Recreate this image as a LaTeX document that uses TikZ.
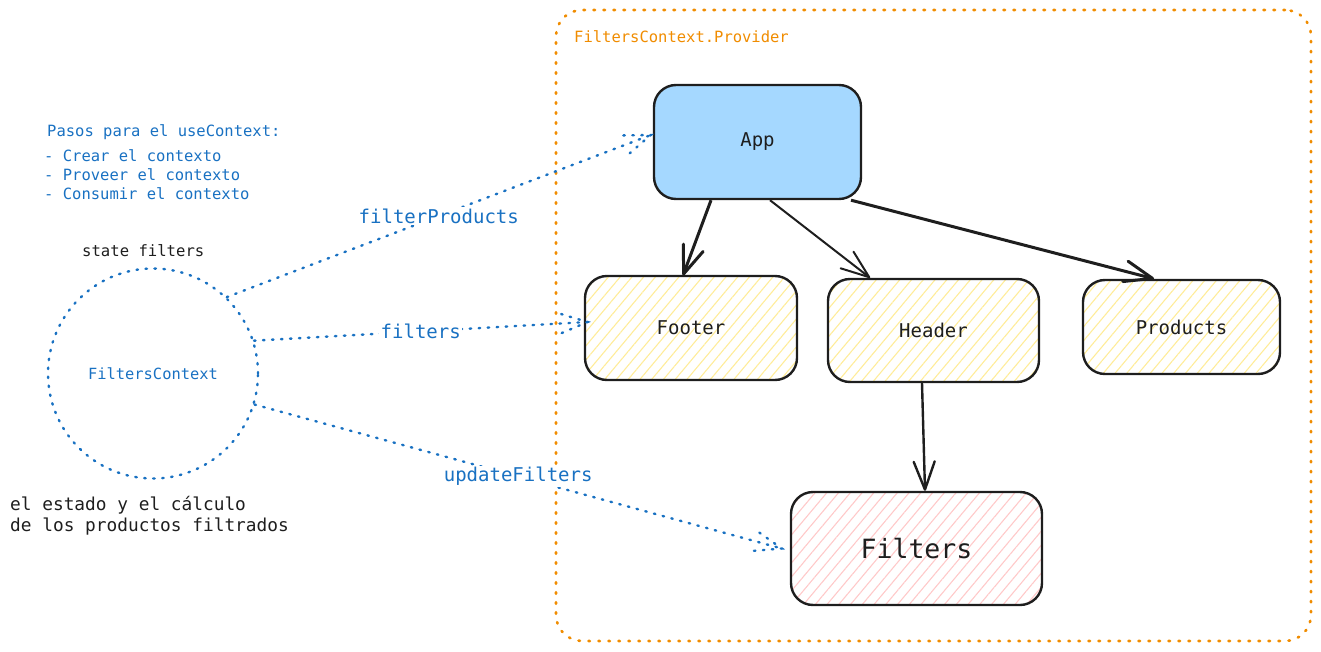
\documentclass[tikz,border=0pt]{standalone}
\usepackage{fontspec}
\setmainfont{DejaVu Sans Mono}
\usetikzlibrary{arrows.meta,patterns.meta,calc}
\definecolor{exblue}{HTML}{1971C2}
\definecolor{exorange}{HTML}{F08C00}
\definecolor{exink}{HTML}{1E1E1E}
\definecolor{appfill}{HTML}{A5D8FF}
\definecolor{hatchY}{HTML}{FFEC99}
\definecolor{hatchR}{HTML}{FFC9C9}
\tikzset{
  box/.style={draw=exink, line width=2.4pt, rounded corners=22pt, rectangle, text=exink, inner sep=0pt},
  hatchyellow/.style={pattern={Lines[angle=50,distance=9pt,line width=1.1pt]}, pattern color=hatchY},
  hatchred/.style={pattern={Lines[angle=50,distance=9pt,line width=1.1pt]}, pattern color=hatchR},
  bluedot/.style={draw=exblue, line width=2.4pt, line cap=round, dash pattern=on 1.5pt off 7.5pt},
  orangedot/.style={draw=exorange, line width=2.6pt, line cap=round, dash pattern=on 1.5pt off 8.5pt},
  blackarrow/.style={draw=exink, -{Straight Barb[length=28pt,width=21pt,round]}},
  lbl/.style={fill=white, text=exblue, inner sep=1.5pt, font=\fontsize{19}{22}\selectfont},
}
\begin{document}
\begin{tikzpicture}[x=1pt,y=-1pt]
\useasboundingbox (0,0) rectangle (1321,652);
% provider frame
\node[orangedot, rounded corners=26pt, minimum width=755pt, minimum height=631pt, inner sep=0pt] (prov) at (933.5,325.5) {};
\node[anchor=base west, text=exorange, inner sep=0pt, font=\fontsize{15.5}{18}\selectfont] (provlbl) at (574,43) {FiltersContext.Provider};
% boxes
\node[box, fill=appfill, minimum width=207pt, minimum height=114pt, font=\fontsize{19}{22}\selectfont] (App) at (757.5,142) {App};
\node[box, hatchyellow, minimum width=212pt, minimum height=104pt, font=\fontsize{19}{22}\selectfont] (Footer) at (691,328) {Footer};
\node[box, hatchyellow, minimum width=211pt, minimum height=103pt, font=\fontsize{19}{22}\selectfont] (Header) at (933.5,330.5) {Header};
\node[box, hatchyellow, minimum width=197pt, minimum height=94pt, font=\fontsize{19}{22}\selectfont] (Products) at (1181.5,327) {Products};
\node[box, hatchred, minimum width=251pt, minimum height=113pt, font=\fontsize{26.5}{30}\selectfont] (Filters) at (916.5,548.5) {Filters};
% context circle
\node[bluedot, circle, minimum size=210pt, inner sep=0pt, text=exblue, font=\fontsize{15.4}{18}\selectfont] (circ) at (153,373.5) {FiltersContext};
% texts
\node[anchor=base west, text=exblue, inner sep=0pt, font=\fontsize{15.5}{18}\selectfont] (t1) at (47,137) {Pasos para el useContext:};
\node[anchor=base west, text=exblue, inner sep=0pt, font=\fontsize{15.5}{18}\selectfont] (t2) at (44,162) {- Crear el contexto};
\node[anchor=base west, text=exblue, inner sep=0pt, font=\fontsize{15.5}{18}\selectfont] (t3) at (44,181) {- Proveer el contexto};
\node[anchor=base west, text=exblue, inner sep=0pt, font=\fontsize{15.5}{18}\selectfont] (t4) at (44,200) {- Consumir el contexto};
\node[anchor=base west, text=exink, inner sep=0pt, font=\fontsize{15.6}{18}\selectfont] (st) at (82,256) {state filters};
\node[anchor=base west, text=exink, inner sep=0pt, font=\fontsize{17.8}{21}\selectfont] (d1) at (10,510) {el estado y el cálculo};
\node[anchor=base west, text=exink, inner sep=0pt, font=\fontsize{17.8}{21}\selectfont] (d2) at (10,531) {de los productos filtrados};
% black arrows
\draw[blackarrow, line width=3pt] ([xshift=-46.5pt]App.south) -- ([xshift=-8pt]Footer.north);
\draw[blackarrow, line width=2pt] ([xshift=12.5pt]App.south) -- ([xshift=-63.5pt]Header.north);
\draw[blackarrow, line width=3pt] ([xshift=93.5pt]App.south) -- ([xshift=-27.5pt]Products.north);
\draw[blackarrow, line width=2.4pt] ([xshift=-11.5pt]Header.south) -- ([xshift=8.5pt]Filters.north);
% blue dotted connectors
\coordinate (fpS) at (circ.46);
\coordinate (fpT) at ([yshift=7pt,xshift=-2pt]App.west);
\coordinate (fiS) at (circ.18);
\coordinate (fiT) at ([yshift=6pt,xshift=3pt]Footer.west);
\coordinate (ufS) at (circ.-17);
\coordinate (ufT) at ([xshift=-8pt]Filters.west);
\draw[bluedot] (fpS) -- (fpT) node[lbl, midway] {filterProducts};
\draw[bluedot] (fiS) -- (fiT) node[lbl, midway] {filters};
\draw[bluedot] (ufS) -- (ufT) node[lbl, midway] {updateFilters};
\draw[bluedot] ($(fpT)!28pt!20:(fpS)$) -- (fpT) -- ($(fpT)!28pt!-20:(fpS)$);
\draw[bluedot] ($(fiT)!28pt!20:(fiS)$) -- (fiT) -- ($(fiT)!28pt!-20:(fiS)$);
\draw[bluedot] ($(ufT)!28pt!20:(ufS)$) -- (ufT) -- ($(ufT)!28pt!-20:(ufS)$);
\end{tikzpicture}
\end{document}
